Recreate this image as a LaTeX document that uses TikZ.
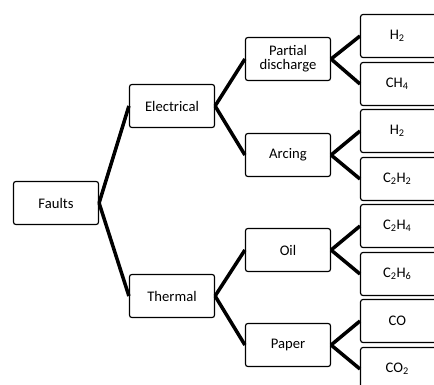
\documentclass[tikz,border=0pt]{standalone}
\usepackage{fontspec}
\setmainfont{Carlito}
\begin{document}
\begin{tikzpicture}[x=0.03cm, y=-0.03cm,
		rect/.style={shape=rectangle, rounded corners=2pt, line width=1pt, draw=black, fill=white, minimum width=2.55cm, minimum height=1.29cm, align=center, font=\fontsize{12.5}{13}\selectfont},
		gas/.style={rect, minimum width=3cm, anchor=west},
		link/.style={line width=3pt, black}]
		\clip (0,0) rectangle (434,385);
		\node (faults) at (56,203) [rect] {Faults};
		\node (elec) at (172,106) [rect] {Electrical};
		\node (therm) at (172,296) [rect] {Thermal};
		\node (pd) at (288,59) [rect] {Partial\\[-1pt]discharge};
		\node (arc) at (288,155) [rect] {Arcing};
		\node (oil) at (288,250) [rect] {Oil};
		\node (paper) at (288,345) [rect] {Paper};
		\node (h2a) at (360,36) [gas] {H\textsubscript{2}\hspace{0.8cm}};
		\node (ch4) at (360,84) [gas] {CH\textsubscript{4}\hspace{0.8cm}};
		\node (h2b) at (360,131) [gas] {H\textsubscript{2}\hspace{0.8cm}};
		\node (c2h2) at (360,179) [gas] {C\textsubscript{2}H\textsubscript{2}\hspace{0.8cm}};
		\node (c2h4) at (360,226) [gas] {C\textsubscript{2}H\textsubscript{4}\hspace{0.8cm}};
		\node (c2h6) at (360,274) [gas] {C\textsubscript{2}H\textsubscript{6}\hspace{0.8cm}};
		\node (co) at (360,321) [gas] {CO\hspace{0.8cm}};
		\node (co2) at (360,369) [gas] {CO\textsubscript{2}\hspace{0.8cm}};
		\draw[link] (faults.east) -- (elec.west);
		\draw[link] (faults.east) -- (therm.west);
		\draw[link] (elec.east) -- (pd.west);
		\draw[link] (elec.east) -- (arc.west);
		\draw[link] (therm.east) -- (oil.west);
		\draw[link] (therm.east) -- (paper.west);
		\draw[link] (pd.east) -- (h2a.west);
		\draw[link] (pd.east) -- (ch4.west);
		\draw[link] (arc.east) -- (h2b.west);
		\draw[link] (arc.east) -- (c2h2.west);
		\draw[link] (oil.east) -- (c2h4.west);
		\draw[link] (oil.east) -- (c2h6.west);
		\draw[link] (paper.east) -- (co.west);
		\draw[link] (paper.east) -- (co2.west);
		\end{tikzpicture}
\end{document}
